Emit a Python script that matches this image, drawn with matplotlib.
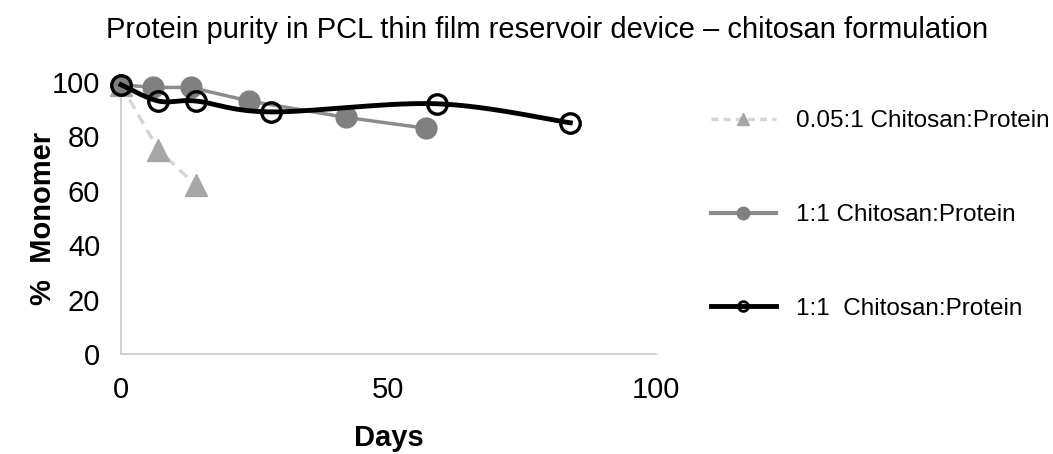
import numpy as np
import matplotlib.pyplot as plt
from matplotlib.lines import Line2D

plt.rcParams['font.family'] = ['Liberation Sans', 'DejaVu Sans']

# % monomer over time for each formulation
days_low = [0, 7, 14]
monomer_low = [99, 75, 62]

days_mid = [0, 6, 13, 24, 42, 57]
monomer_mid = [99, 98, 98, 93, 87, 83]

days_hi = [0, 7, 14, 28, 59, 84]
monomer_hi = [99, 93, 93, 89, 92, 85]

labels = ['0.05:1 Chitosan:Protein', '1:1 Chitosan:Protein', '1:1  Chitosan:Protein']


def smooth(xs, ys, n=30):
    # catmull-rom style bezier through the points (spreadsheet "smoothed line")
    xs = np.asarray(xs, float)
    ys = np.asarray(ys, float)
    px = np.concatenate([[xs[0]], xs, [xs[-1]]])
    py = np.concatenate([[ys[0]], ys, [ys[-1]]])
    out_x, out_y = [], []
    for i in range(1, len(px) - 2):
        p0 = np.array([px[i], py[i]])
        p3 = np.array([px[i + 1], py[i + 1]])
        c1 = p0 + (p3 - np.array([px[i - 1], py[i - 1]])) / 6
        c2 = p3 - (np.array([px[i + 2], py[i + 2]]) - p0) / 6
        t = np.linspace(0, 1, n)[:, None]
        pts = (1 - t) ** 3 * p0 + 3 * (1 - t) ** 2 * t * c1 + 3 * (1 - t) * t ** 2 * c2 + t ** 3 * p3
        out_x.extend(pts[:, 0])
        out_y.extend(pts[:, 1])
    return out_x, out_y


fig = plt.figure(figsize=(10.53, 4.54), dpi=100)
ax = fig.add_axes([0.1149, 0.2203, 0.508, 0.5991])

ax.plot(days_low, monomer_low, color='#d6d6d6', lw=2.5, ls=(0, (3, 2)), zorder=2)
ax.plot(days_low, monomer_low, ls='none', marker='^', ms=16, color='#a6a6a6', zorder=3, clip_on=False)

ax.plot(days_mid, monomer_mid, color='#8c8c8c', lw=2.5, marker='o', ms=15,
        mfc='#808080', mec='#808080', zorder=4, clip_on=False)

sx, sy = smooth(days_hi, monomer_hi)
ax.plot(sx, sy, color='black', lw=3.5, zorder=5, clip_on=False)
ax.plot(days_hi, monomer_hi, ls='none', marker='o', ms=14, mfc='none', mec='black', mew=2.4,
        zorder=6, clip_on=False)

ax.set_xlim(0, 100)
ax.set_ylim(0, 100)
ax.set_xticks([0, 50, 100])
ax.set_yticks([0, 20, 40, 60, 80, 100])
ax.tick_params(length=0, labelsize=21, colors='black')
ax.tick_params(axis='x', pad=16)
ax.tick_params(axis='y', pad=15)
for s in ['top', 'right']:
    ax.spines[s].set_visible(False)
for s in ['left', 'bottom']:
    ax.spines[s].set_color('#c8c8c8')
    ax.spines[s].set_linewidth(1.2)

ax.set_xlabel('Days', fontsize=21, fontweight='bold', labelpad=14)
ax.set_ylabel('%  Monomer', fontsize=21, fontweight='bold', labelpad=-4)
fig.suptitle('Protein purity in PCL thin film reservoir device \u2013 chitosan formulation',
             fontsize=21, x=0.52, y=0.965)

handles = [
    Line2D([], [], color='#d6d6d6', lw=2.5, ls=(0, (2, 1.5)), marker='^', ms=9,
           mfc='#a6a6a6', mec='#a6a6a6'),
    Line2D([], [], color='#8c8c8c', lw=3, marker='o', ms=9, mfc='#808080', mec='#808080'),
    Line2D([], [], color='black', lw=3.5, marker='o', ms=7, mfc='none', mec='black', mew=2),
]
fig.legend(handles, labels, loc='upper left', bbox_to_anchor=(0.654, 0.805),
           frameon=False, fontsize=17.5, handlelength=2.7, labelspacing=2.95, handletextpad=0.8)

fig.savefig('out.png', dpi=100)
